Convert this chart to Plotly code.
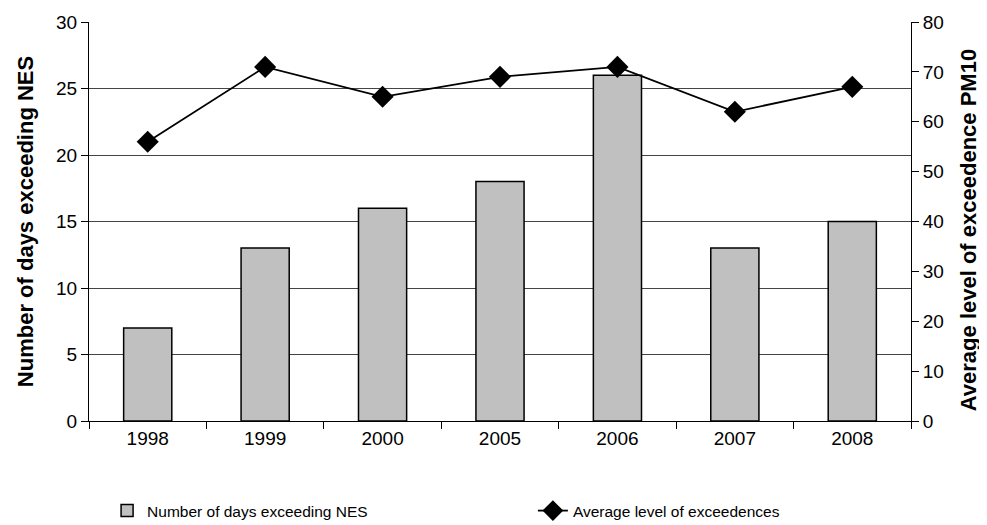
import plotly.graph_objects as go

# data
years = ['1998', '1999', '2000', '2005', '2006', '2007', '2008']
days_exceeding = [7, 13, 16, 18, 26, 13, 15]
avg_level = [56, 71, 65, 69, 71, 62, 67]

left_ticks = [0, 5, 10, 15, 20, 25, 30]
grid_vals = [5, 10, 15, 20, 25]
right_ticks = [0, 10, 20, 30, 40, 50, 60, 70, 80]

font = 'Liberation Sans, Arial, sans-serif'

fig = go.Figure()

# invisible trace only to carry the gridline axis (no gridline at 30)
fig.add_trace(go.Scatter(x=years, y=days_exceeding, yaxis='y3', mode='none',
                         showlegend=False, hoverinfo='skip'))

fig.add_trace(go.Bar(
    x=years, y=days_exceeding, name='Number of days exceeding NES',
    marker=dict(color='#C0C0C0', line=dict(color='black', width=1.5)),
    yaxis='y', legend='legend'
))

fig.add_trace(go.Scatter(
    x=years, y=avg_level, name='Average level of exceedences',
    mode='lines+markers',
    line=dict(color='black', width=1.8),
    marker=dict(symbol='diamond', size=17, color='black'),
    yaxis='y2', legend='legend2'
))

leg_common = dict(orientation='h', xanchor='left', y=-0.183, yanchor='top',
                  font=dict(size=15.5), bgcolor='rgba(0,0,0,0)')

fig.update_layout(
    width=987, height=525,
    margin=dict(l=81, r=84, t=14, b=112, autoexpand=False),
    plot_bgcolor='white', paper_bgcolor='white',
    font=dict(family=font, size=19, color='black'),
    bargap=0.59,
    showlegend=True,
    legend=dict(x=0.022, **leg_common),
    legend2=dict(x=0.540, **leg_common),
    xaxis=dict(type='category', showline=True, linecolor='black', linewidth=1,
               ticks='outside', ticklen=7, tickcolor='black', tickson='boundaries',
               showgrid=False, tickfont=dict(size=19)),
    yaxis=dict(range=[0, 30], tickvals=left_ticks, showgrid=False,
               showline=True, linecolor='black', linewidth=1,
               ticks='outside', ticklen=7, tickcolor='black',
               zeroline=False, tickfont=dict(size=19),
               title=dict(text='<b>Number of days exceeding NES</b>', font=dict(size=22), standoff=16)),
    yaxis2=dict(range=[0, 80], tickvals=right_ticks, overlaying='y', side='right',
                showgrid=False, showline=True, linecolor='black', linewidth=1,
                ticks='outside', ticklen=7, tickcolor='black',
                zeroline=False, tickfont=dict(size=19)),
    yaxis3=dict(range=[0, 30], tickvals=grid_vals, overlaying='y', showgrid=True,
                gridcolor='#444444', gridwidth=1, showticklabels=False,
                showline=False, zeroline=False, ticks=''),
    annotations=[dict(text='<b>Average level of exceedence PM10</b>', textangle=-90,
                      xref='paper', yref='paper', x=1.071, y=0.479,
                      xanchor='center', yanchor='middle', showarrow=False,
                      font=dict(size=22))],
)

fig.write_html('out.html')
